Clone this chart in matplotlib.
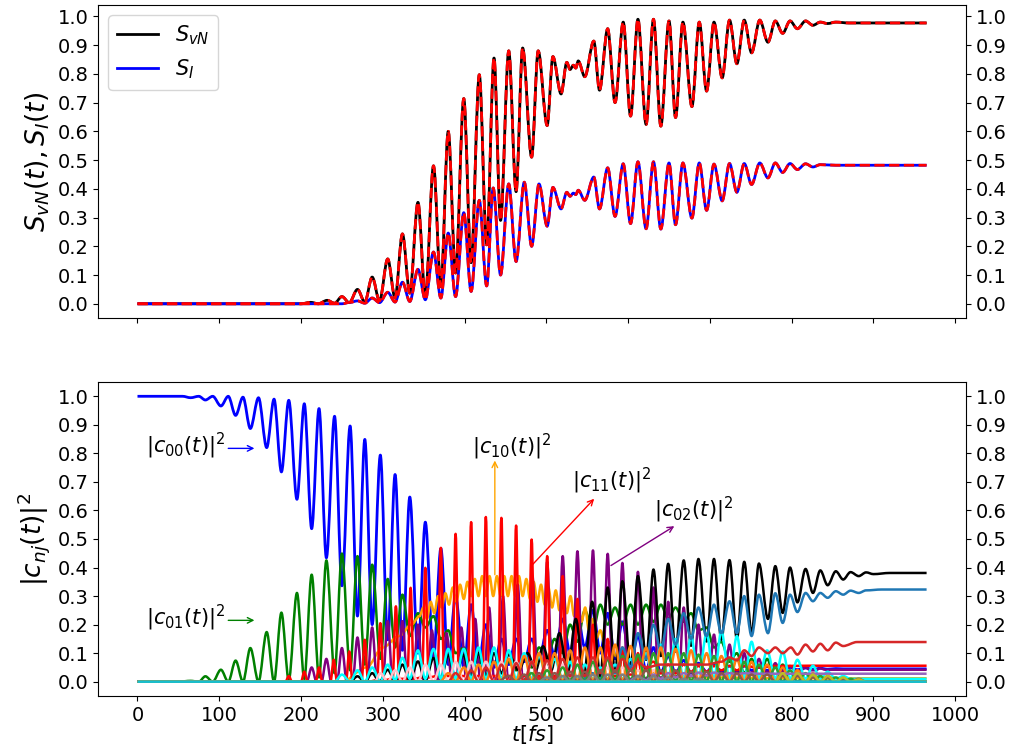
import matplotlib
matplotlib.use("Agg")
import matplotlib.pyplot as plt
from matplotlib.path import Path
from matplotlib.patches import PathPatch
from matplotlib.lines import Line2D

# ---------------- upper panel: entropies ----------------
svn_t = [0, 200, 212, 221, 232, 241, 250, 259, 269, 278,
         287, 296, 306, 315, 324, 333, 343, 352, 362, 371,
         380, 389, 399, 408, 418, 427, 436, 444, 454, 463,
         471, 482, 490, 501, 508, 518, 525, 529, 533, 536,
         539, 547, 558, 565, 575, 584, 594, 603, 612, 622,
         631, 640, 650, 658, 667, 678, 687, 696, 705, 715,
         724, 733, 742, 751, 761, 771, 780, 789, 798, 807,
         817, 826, 835, 844, 854, 870, 965]
svn_v = [0.0, 0.0, 0.005, 0.0, 0.012, 0.002, 0.025, 0.004, 0.05, 0.006,
         0.093, 0.01, 0.156, 0.02, 0.243, 0.037, 0.353, 0.025, 0.48, 0.06,
         0.60, 0.107, 0.714, 0.143, 0.797, 0.205, 0.855, 0.29, 0.88, 0.39,
         0.89, 0.51, 0.88, 0.62, 0.86, 0.73, 0.84, 0.815, 0.83, 0.82,
         0.845, 0.79, 0.914, 0.743, 0.957, 0.70, 0.98, 0.653, 0.99, 0.624,
         0.99, 0.618, 0.984, 0.648, 0.98, 0.686, 0.98, 0.74, 0.98, 0.786,
         0.987, 0.835, 0.987, 0.873, 0.987, 0.91, 0.984, 0.941, 0.984, 0.957,
         0.984, 0.969, 0.98, 0.975, 0.98, 0.977, 0.977]

si_t = [0, 250, 260, 269, 278, 287, 296, 306, 315, 324,
        333, 343, 352, 362, 371, 380, 389, 399, 408, 418,
        427, 435, 444, 454, 463, 473, 482, 491, 501, 508,
        518, 525, 529, 533, 536, 539, 547, 558, 565, 575,
        584, 594, 603, 612, 622, 631, 640, 650, 658, 667,
        678, 687, 696, 705, 715, 724, 733, 742, 751, 761,
        771, 780, 789, 798, 807, 817, 826, 835, 854, 965]
si_v = [0.0, 0.0, 0.005, 0.01, 0.002, 0.02, 0.004, 0.04, 0.006, 0.075,
        0.008, 0.12, 0.014, 0.18, 0.02, 0.246, 0.025, 0.317, 0.043, 0.36,
        0.062, 0.403, 0.1, 0.417, 0.147, 0.423, 0.20, 0.417, 0.27, 0.405,
        0.33, 0.388, 0.374, 0.385, 0.38, 0.395, 0.36, 0.441, 0.33, 0.473,
        0.304, 0.487, 0.279, 0.494, 0.261, 0.494, 0.26, 0.49, 0.275, 0.49,
        0.298, 0.49, 0.325, 0.486, 0.358, 0.488, 0.388, 0.488, 0.415, 0.49,
        0.438, 0.49, 0.457, 0.488, 0.467, 0.487, 0.476, 0.484, 0.482, 0.482]

# ---------------- lower panel: populations ----------------
c00_t = [0, 55, 65,
         75, 83, 92, 102, 111, 120, 129, 138, 148, 158,
         167, 176, 185, 195, 204, 213, 222, 231, 241, 250,
         260, 269, 278, 287, 297, 306, 315, 324, 333, 343,
         352, 362, 371, 380, 389, 399, 408, 417, 426, 436,
         445, 454, 463, 473, 482, 491, 501, 510, 520, 529,
         538, 547, 557, 566, 575, 584, 593, 603, 612, 622,
         631, 640, 649, 658, 668, 677, 686, 696, 705, 714,
         724, 733, 742, 751, 760, 770, 780, 789, 798, 807,
         817, 826, 835, 844, 854, 863, 872, 882,
         900, 965]
c00_v = [1.0, 1.0, 0.995,
         1.0, 0.987, 1.0, 0.966, 1.0, 0.933, 0.997, 0.887, 0.995, 0.82,
         0.99, 0.735, 0.986, 0.639, 0.974, 0.536, 0.957, 0.434, 0.93, 0.336,
         0.896, 0.23, 0.849, 0.2, 0.794, 0.147, 0.726, 0.11, 0.647, 0.1,
         0.559, 0.08, 0.467, 0.06, 0.30, 0.05, 0.27, 0.06, 0.20, 0.05,
         0.15, 0.06, 0.15, 0.07, 0.15, 0.08, 0.18, 0.09, 0.22, 0.10,
         0.235, 0.12, 0.25, 0.10, 0.24, 0.08, 0.21, 0.06, 0.16, 0.04,
         0.12, 0.03, 0.09, 0.03, 0.075, 0.03, 0.065, 0.035, 0.06, 0.035,
         0.055, 0.035, 0.055, 0.04, 0.05, 0.04, 0.05, 0.04, 0.05, 0.042,
         0.048, 0.043, 0.047, 0.044, 0.046, 0.045, 0.045, 0.045,
         0.045, 0.045]

c01_t = [0, 50, 65, 75, 83, 92, 102, 111, 120, 129,
         138, 148, 158, 167, 176, 185, 195, 204, 213, 222,
         231, 241, 250, 260, 269, 278, 287, 297, 306, 315,
         324, 333, 343, 352, 362, 371, 380, 389, 399, 408,
         417, 426, 436, 445, 454, 463, 473, 482, 491, 501,
         510, 520, 529, 538, 547, 557, 566, 575, 584, 593,
         603, 612, 622, 631, 640, 649, 658, 668, 677, 686,
         696, 705, 714, 724, 733, 742, 751, 760, 770, 780,
         789, 798, 807, 817, 826, 835, 844, 854, 863, 872, 965]
c01_v = [0.0, 0.0, 0.003, 0.0, 0.019, 0.0, 0.042, 0.0, 0.074, 0.0,
         0.118, 0.0, 0.174, 0.0, 0.242, 0.005, 0.311, 0.01, 0.375, 0.015,
         0.425, 0.03, 0.449, 0.04, 0.44, 0.06, 0.41, 0.08, 0.36, 0.12,
         0.305, 0.16, 0.24, 0.19, 0.23, 0.15, 0.18, 0.10, 0.12, 0.06,
         0.08, 0.04, 0.07, 0.03, 0.07, 0.04, 0.09, 0.05, 0.12, 0.08,
         0.15, 0.10, 0.20, 0.14, 0.25, 0.18, 0.27, 0.20, 0.26, 0.20,
         0.27, 0.20, 0.27, 0.21, 0.27, 0.22, 0.26, 0.21, 0.24, 0.18,
         0.19, 0.12, 0.14, 0.07, 0.10, 0.03, 0.08, 0.01, 0.08, 0.0,
         0.06, 0.0, 0.04, 0.0, 0.025, 0.0, 0.012, 0.0, 0.005, 0.0, 0.0]

c10_t = [0, 250, 280, 300, 320, 335, 345, 349.5, 354, 358.5,
         363, 367.5, 372, 376.5, 381, 385.5, 390, 394.5, 399, 403.5,
         408, 412.5, 417, 421.5, 426, 430.5, 435, 439.5, 444, 448.5,
         453, 457.5, 462, 466.5, 471, 475.5, 480, 484.5, 489, 493.5,
         498, 502.5, 507, 511.5, 516, 520.5, 525, 529.5, 534, 538.5,
         543, 547.5, 552, 556.5, 561, 566, 572, 578, 585, 592,
         600, 610, 620, 640, 660, 700, 800, 965]
c10_v = [0.0, 0.0, 0.05, 0.12, 0.16, 0.2, 0.23, 0.26, 0.22, 0.28,
         0.24, 0.30, 0.26, 0.31, 0.27, 0.33, 0.28, 0.34, 0.29, 0.35,
         0.30, 0.36, 0.30, 0.37, 0.30, 0.37, 0.30, 0.37, 0.30, 0.37,
         0.30, 0.37, 0.30, 0.37, 0.30, 0.36, 0.29, 0.35, 0.28, 0.34,
         0.27, 0.33, 0.26, 0.32, 0.25, 0.31, 0.24, 0.30, 0.23, 0.28,
         0.21, 0.26, 0.18, 0.22, 0.15, 0.18, 0.12, 0.14, 0.09, 0.10,
         0.06, 0.07, 0.04, 0.03, 0.02, 0.015, 0.012, 0.012]

c11_t = [0, 178,
         181, 185, 189,
         200, 204, 208,
         218, 222, 226,
         236, 240, 244,
         255, 259, 263,
         274, 278, 282,
         293, 297, 301,
         312, 316, 320,
         330, 334, 338,
         348, 352, 356,
         367, 371, 375,
         385, 389, 393,
         404, 408, 412,
         422, 426, 430,
         441, 445, 449,
         459, 463, 467,
         478, 482, 486,
         497, 501, 505,
         516, 520, 524,
         534, 538, 542,
         553, 557, 561,
         571, 575, 579,
         589, 593, 597,
         608, 612, 616,
         631, 640, 649, 658, 668, 677, 686, 696, 705, 714,
         724, 733, 742, 760, 780, 820, 965]
c11_v = [0.0, 0.0,
         0.0, 0.02, 0.0,
         0.0, 0.035, 0.0,
         0.0, 0.05, 0.0,
         0.0, 0.077, 0.0,
         0.0, 0.106, 0.0,
         0.0, 0.147, 0.0,
         0.005, 0.205, 0.005,
         0.01, 0.264, 0.01,
         0.01, 0.329, 0.01,
         0.015, 0.399, 0.015,
         0.02, 0.469, 0.02,
         0.02, 0.518, 0.02,
         0.02, 0.559, 0.02,
         0.02, 0.577, 0.02,
         0.02, 0.574, 0.02,
         0.02, 0.547, 0.02,
         0.02, 0.498, 0.02,
         0.02, 0.44, 0.02,
         0.02, 0.37, 0.02,
         0.02, 0.29, 0.02,
         0.02, 0.20, 0.02,
         0.02, 0.15, 0.02,
         0.02, 0.12, 0.025,
         0.025, 0.10, 0.03,
         0.07, 0.03, 0.06, 0.03, 0.06, 0.035, 0.055, 0.035, 0.055, 0.04,
         0.055, 0.04, 0.055, 0.05, 0.055, 0.056, 0.056]

c02_t = [0, 190,
         207, 213, 219,
         225, 231, 237,
         244, 250, 256,
         263, 269, 275,
         281, 287, 293,
         300, 306, 312,
         318, 324, 330,
         337, 343, 349,
         354, 360, 366,
         372, 378, 384,
         390, 396, 402,
         407, 413, 419,
         424, 430, 436,
         441, 447, 453,
         459, 465, 471,
         477, 483, 489,
         495, 501, 507,
         514, 520, 526,
         532, 538, 544,
         551, 557, 563,
         569, 575, 581,
         587, 593, 599,
         606, 612, 618,
         625, 631, 637,
         643, 649, 655,
         662, 668, 674,
         680, 686, 692,
         699, 705, 711,
         718, 724, 730,
         736, 742, 748,
         754, 760, 766,
         774, 780, 786,
         792, 798, 804,
         811, 817, 823,
         829, 835, 841,
         870, 965]
c02_v = [0.0, 0.0,
         0.0, 0.05, 0.0,
         0.0, 0.08, 0.0,
         0.0, 0.118, 0.0,
         0.0, 0.155, 0.0,
         0.0, 0.19, 0.0,
         0.005, 0.212, 0.005,
         0.005, 0.212, 0.005,
         0.01, 0.20, 0.01,
         0.01, 0.18, 0.01,
         0.01, 0.17, 0.01,
         0.01, 0.19, 0.01,
         0.01, 0.22, 0.01,
         0.01, 0.26, 0.01,
         0.01, 0.30, 0.01,
         0.01, 0.34, 0.01,
         0.01, 0.37, 0.01,
         0.01, 0.42, 0.01,
         0.01, 0.44, 0.01,
         0.01, 0.457, 0.01,
         0.01, 0.46, 0.01,
         0.01, 0.448, 0.01,
         0.01, 0.416, 0.01,
         0.01, 0.385, 0.01,
         0.015, 0.33, 0.015,
         0.015, 0.28, 0.015,
         0.02, 0.26, 0.02,
         0.02, 0.20, 0.02,
         0.025, 0.165, 0.025,
         0.03, 0.13, 0.03,
         0.03, 0.10, 0.03,
         0.035, 0.08, 0.035,
         0.035, 0.065, 0.035,
         0.04, 0.055, 0.04,
         0.04, 0.05, 0.04,
         0.04, 0.047, 0.042,
         0.042, 0.042]

blk_t = [0, 250, 260, 269, 278, 287, 296, 306, 315, 324,
         333, 343, 352, 362, 371, 380, 389, 398, 408, 417,
         426, 436, 445, 454, 466, 477, 487, 496, 506, 516,
         526, 536, 546, 556, 566, 575, 584, 593, 603, 612,
         622, 631, 640, 649, 658, 668, 677, 686, 696, 705,
         714, 724, 733, 742, 751, 760, 771, 780, 789, 798,
         807, 817, 826, 835, 844, 854, 863, 872, 882, 891,
         900, 920, 965]
blk_v = [0.0, 0.0, 0.0, 0.019, 0.0, 0.03, 0.0, 0.042, 0.002, 0.06,
         0.005, 0.071, 0.005, 0.083, 0.01, 0.095, 0.01, 0.095, 0.02, 0.10,
         0.02, 0.10, 0.03, 0.095, 0.04, 0.10, 0.04, 0.124, 0.04, 0.17,
         0.03, 0.22, 0.02, 0.28, 0.02, 0.33, 0.03, 0.352, 0.05, 0.37,
         0.077, 0.393, 0.09, 0.413, 0.106, 0.425, 0.126, 0.43, 0.141, 0.43,
         0.147, 0.426, 0.15, 0.42, 0.17, 0.414, 0.22, 0.405, 0.241, 0.40,
         0.278, 0.395, 0.311, 0.39, 0.338, 0.387, 0.358, 0.384, 0.37, 0.383,
         0.377, 0.381, 0.381]

sb_t = [0, 540, 556, 566, 575, 584, 593, 603, 612, 622,
        631, 640, 649, 658, 668, 677, 686, 696, 705, 714,
        724, 733, 742, 751, 760, 771, 780, 789, 798, 807,
        817, 826, 835, 844, 854, 863, 872, 882, 891, 910, 965]
sb_v = [0.0, 0.0, 0.03, 0.01, 0.08, 0.03, 0.12, 0.05, 0.17, 0.08,
        0.2, 0.11, 0.22, 0.13, 0.24, 0.15, 0.26, 0.16, 0.27, 0.17,
        0.282, 0.17, 0.3, 0.16, 0.305, 0.17, 0.31, 0.206, 0.305, 0.244,
        0.311, 0.282, 0.311, 0.294, 0.317, 0.305, 0.319, 0.311, 0.32, 0.323, 0.323]

trd_t = [0, 380, 389, 399, 408, 417, 426, 436, 445, 454,
         463, 473, 482, 491, 501, 510, 520, 529, 538, 547,
         557, 566, 575, 584, 593, 603, 612, 622, 640, 658,
         677, 696, 714, 724, 733, 742, 751, 760, 771, 780,
         789, 799, 807, 817, 826, 835, 844, 854, 863, 880, 965]
trd_v = [0.0, 0.0, 0.03, 0.0, 0.04, 0.0, 0.05, 0.0, 0.06, 0.0,
         0.065, 0.0, 0.07, 0.01, 0.075, 0.01, 0.08, 0.02, 0.085, 0.02,
         0.085, 0.03, 0.085, 0.035, 0.08, 0.04, 0.07, 0.05, 0.06, 0.06,
         0.06, 0.06, 0.07, 0.085, 0.075, 0.11, 0.09, 0.12, 0.10, 0.12,
         0.10, 0.12, 0.095, 0.13, 0.106, 0.133, 0.11, 0.137, 0.125, 0.139, 0.139]

cy_t = [0, 230, 241, 250, 260, 269, 278, 287, 297, 306,
        315, 324, 333, 343, 352, 362, 371, 380, 389, 399,
        408, 417, 426, 436, 445, 454, 463, 473, 482, 491,
        501, 510, 520, 529, 538, 547, 557, 566, 575, 584,
        593, 603, 612, 622, 631, 640, 649, 658, 668, 677,
        686, 696, 705, 714, 724, 733, 742, 751, 760, 770,
        780, 789, 798, 807, 817, 826, 835, 844, 854, 863,
        872, 890, 965]
cy_v = [0.0, 0.0, 0.0, 0.025, 0.0, 0.04, 0.0, 0.05, 0.0, 0.06,
        0.005, 0.084, 0.01, 0.11, 0.01, 0.115, 0.01, 0.115, 0.01, 0.115,
        0.01, 0.12, 0.01, 0.12, 0.01, 0.11, 0.01, 0.10, 0.01, 0.09,
        0.01, 0.08, 0.01, 0.07, 0.01, 0.06, 0.01, 0.05, 0.01, 0.06,
        0.01, 0.08, 0.01, 0.10, 0.01, 0.13, 0.01, 0.15, 0.01, 0.16,
        0.01, 0.17, 0.01, 0.177, 0.01, 0.16, 0.01, 0.14, 0.01, 0.11,
        0.01, 0.106, 0.01, 0.077, 0.01, 0.056, 0.01, 0.035, 0.01, 0.02,
        0.01, 0.01, 0.01]

tor_t = [0, 370, 380, 389, 399, 408, 417, 426, 436, 445,
         454, 463, 473, 482, 491, 501, 510, 520, 529, 538,
         547, 557, 566, 575, 584, 593, 603, 612, 622, 631,
         640, 649, 658, 668, 677, 686, 696, 705, 714, 724,
         733, 742, 751, 760, 770, 780, 789, 798, 807, 817,
         826, 835, 844, 854, 863, 872, 890, 965]
tor_v = [0.0, 0.0, 0.03, 0.0, 0.05, 0.0, 0.06, 0.0, 0.07, 0.0,
         0.08, 0.0, 0.09, 0.0, 0.10, 0.0, 0.10, 0.0, 0.11, 0.0,
         0.12, 0.0, 0.12, 0.0, 0.13, 0.0, 0.125, 0.0, 0.12, 0.0,
         0.12, 0.0, 0.115, 0.0, 0.11, 0.0, 0.10, 0.0, 0.09, 0.0,
         0.08, 0.0, 0.07, 0.0, 0.06, 0.0, 0.05, 0.0, 0.04, 0.0,
         0.03, 0.0, 0.02, 0.0, 0.01, 0.0, 0.0, 0.0]

tgr_t = [0, 470, 482, 491, 501, 510, 520, 529, 538, 547,
         557, 566, 575, 584, 593, 603, 612, 622, 631, 640,
         649, 658, 668, 677, 686, 696, 705, 714, 724, 733,
         742, 751, 760, 770, 780, 789, 798, 807, 817, 826,
         835, 844, 854, 863, 872, 882, 965]
tgr_v = [0.0, 0.0, 0.03, 0.0, 0.04, 0.0, 0.05, 0.0, 0.06, 0.0,
         0.07, 0.0, 0.08, 0.0, 0.09, 0.0, 0.095, 0.0, 0.1, 0.0,
         0.1, 0.0, 0.1, 0.0, 0.095, 0.0, 0.09, 0.0, 0.08, 0.0,
         0.07, 0.0, 0.06, 0.0, 0.05, 0.0, 0.04, 0.0, 0.03, 0.0,
         0.02, 0.0, 0.015, 0.0, 0.01, 0.0, 0.0]

pnk_t = [0, 290, 297, 306, 315, 324, 333, 343, 352, 362,
         371, 380, 389, 399, 408, 417, 426, 436, 445, 454,
         463, 473, 482, 491, 501, 510, 520, 529, 538, 547,
         557, 566, 575, 584, 593, 603, 612, 622, 631, 640,
         649, 658, 668, 677, 686, 696, 705, 720, 965]
pnk_v = [0.0, 0.0, 0.03, 0.0, 0.04, 0.0, 0.05, 0.0, 0.06, 0.0,
         0.06, 0.0, 0.07, 0.0, 0.07, 0.0, 0.07, 0.0, 0.07, 0.0,
         0.07, 0.0, 0.07, 0.0, 0.07, 0.0, 0.06, 0.0, 0.06, 0.0,
         0.06, 0.0, 0.05, 0.0, 0.05, 0.0, 0.04, 0.0, 0.04, 0.0,
         0.03, 0.0, 0.03, 0.0, 0.02, 0.0, 0.01, 0.0, 0.0]

tbr_t = [0, 440, 454, 463, 473, 482, 491, 501, 510, 520,
         529, 538, 547, 557, 566, 575, 584, 593, 603, 612,
         622, 631, 640, 649, 658, 668, 677, 686, 696, 705,
         714, 724, 733, 742, 751, 760, 770, 780, 789, 798,
         807, 817, 826, 835, 844, 854, 863, 872, 882, 891, 965]
tbr_v = [0.0, 0.0, 0.02, 0.0, 0.025, 0.0, 0.03, 0.0, 0.03, 0.0,
         0.035, 0.0, 0.035, 0.0, 0.04, 0.0, 0.04, 0.0, 0.04, 0.0,
         0.04, 0.0, 0.04, 0.0, 0.04, 0.0, 0.035, 0.0, 0.035, 0.0,
         0.03, 0.0, 0.03, 0.0, 0.025, 0.0, 0.025, 0.0, 0.02, 0.0,
         0.02, 0.0, 0.015, 0.0, 0.015, 0.0, 0.01, 0.0, 0.01, 0.0, 0.0]

tpu_t = [0, 600, 612, 622, 631, 640, 649, 658, 668, 677,
         686, 696, 705, 714, 724, 733, 742, 760, 800, 965]
tpu_v = [0.0, 0.0, 0.02, 0.005, 0.025, 0.01, 0.03, 0.015, 0.03, 0.02,
         0.032, 0.022, 0.032, 0.025, 0.03, 0.026, 0.03, 0.028, 0.028, 0.028]

tgy_t = [0, 490, 501, 510, 520, 529, 538, 547, 557, 566,
         575, 584, 593, 603, 612, 622, 631, 640, 649, 658,
         668, 677, 686, 700, 965]
tgy_v = [0.0, 0.0, 0.015, 0.0, 0.02, 0.0, 0.02, 0.0, 0.025, 0.0,
         0.025, 0.0, 0.025, 0.0, 0.02, 0.0, 0.02, 0.0, 0.015, 0.0,
         0.01, 0.0, 0.01, 0.0, 0.0]

tol_t = [0, 780, 789, 798, 807, 817, 826, 835, 844, 854, 863, 872, 882, 891, 900, 965]
tol_v = [0.0, 0.0, 0.03, 0.0, 0.03, 0.0, 0.025, 0.0, 0.02, 0.0, 0.015, 0.0, 0.008, 0.0, 0.0, 0.0]

tcy_t = [0, 965]
tcy_v = [0.0, 0.0]

x_ticks = [0, 100, 200, 300, 400, 500, 600, 700, 800, 900, 1000]
y_ticks = [0.0, 0.1, 0.2, 0.3, 0.4, 0.5, 0.6, 0.7, 0.8, 0.9, 1.0]

TICK_FS = 14
LABEL_FS = 19
ANN_FS = 15


def smooth_trace(ax, t, v, color, lw=1.8, ls="-"):
    """Draw a curve through the sample points (t, v) as a chain of cubic
    Bezier segments with flat tangents at every sample, so oscillations
    between turning points come out rounded."""
    verts = [(t[0], v[0])]
    codes = [Path.MOVETO]
    for i in range(len(t) - 1):
        dt = t[i + 1] - t[i]
        verts += [(t[i] + dt / 3.0, v[i]),
                  (t[i + 1] - dt / 3.0, v[i + 1]),
                  (t[i + 1], v[i + 1])]
        codes += [Path.CURVE4] * 3
    patch = PathPatch(Path(verts, codes), fill=False, edgecolor=color,
                      lw=lw, ls=ls, joinstyle="round", capstyle="butt")
    ax.add_patch(patch)
    return patch


fig = plt.figure(figsize=(10.17, 7.47), dpi=100)
ax1 = fig.add_axes([0.0964, 0.5743, 0.8535, 0.419])
ax2 = fig.add_axes([0.0964, 0.0683, 0.8535, 0.4203], sharex=ax1)

# upper panel
smooth_trace(ax1, svn_t, svn_v, "black", lw=2.0)
smooth_trace(ax1, si_t, si_v, "blue", lw=2.0)
smooth_trace(ax1, svn_t, svn_v, "red", lw=2.0, ls="--")
smooth_trace(ax1, si_t, si_v, "red", lw=2.0, ls="--")
handles = [Line2D([], [], color="black", lw=2.0),
           Line2D([], [], color="blue", lw=2.0)]
ax1.legend(handles, [r"$S_{vN}$", r"$S_I$"], loc="upper left",
           fontsize=15, handlelength=2.0)
ax1.set_ylabel(r"$S_{vN}(t), S_I(t)$", fontsize=LABEL_FS)

# lower panel
smooth_trace(ax2, c00_t, c00_v, "blue", lw=2.0)
smooth_trace(ax2, c01_t, c01_v, "green")
smooth_trace(ax2, c10_t, c10_v, "orange")
smooth_trace(ax2, c02_t, c02_v, "purple")
smooth_trace(ax2, c11_t, c11_v, "red")
smooth_trace(ax2, blk_t, blk_v, "black")
smooth_trace(ax2, cy_t, cy_v, "cyan")
smooth_trace(ax2, pnk_t, pnk_v, "pink")
smooth_trace(ax2, sb_t, sb_v, "tab:blue")
smooth_trace(ax2, tor_t, tor_v, "tab:orange")
smooth_trace(ax2, tgr_t, tgr_v, "tab:green")
smooth_trace(ax2, trd_t, trd_v, "tab:red")
smooth_trace(ax2, tpu_t, tpu_v, "tab:purple")
smooth_trace(ax2, tbr_t, tbr_v, "tab:brown")
smooth_trace(ax2, tgy_t, tgy_v, "tab:gray")
smooth_trace(ax2, tol_t, tol_v, "tab:olive")
smooth_trace(ax2, tcy_t, tcy_v, "tab:cyan")

ax2.set_ylabel(r"$|c_{nj}(t)|^2$", fontsize=LABEL_FS)
ax2.set_xlabel(r"$t[fs]$", fontsize=15, labelpad=-1)

# labels with arrows
arrow = dict(arrowstyle="->", lw=1.0, shrinkA=0, shrinkB=0)
ax2.text(10, 0.826, r"$|c_{00}(t)|^2$", fontsize=ANN_FS, ha="left", va="center")
ax2.annotate("", xy=(143, 0.8175), xytext=(111, 0.8175),
             arrowprops=dict(arrow, color="blue"))
ax2.text(10, 0.223, r"$|c_{01}(t)|^2$", fontsize=ANN_FS, ha="left", va="center")
ax2.annotate("", xy=(143, 0.215), xytext=(111, 0.215),
             arrowprops=dict(arrow, color="green"))
ax2.text(458, 0.822, r"$|c_{10}(t)|^2$", fontsize=ANN_FS, ha="center", va="center")
ax2.annotate("", xy=(437, 0.775), xytext=(437, 0.375),
             arrowprops=dict(arrow, color="orange"))
ax2.text(580, 0.705, r"$|c_{11}(t)|^2$", fontsize=ANN_FS, ha="center", va="center")
ax2.annotate("", xy=(558.5, 0.641), xytext=(483, 0.41),
             arrowprops=dict(arrow, color="red"))
ax2.text(680, 0.601, r"$|c_{02}(t)|^2$", fontsize=ANN_FS, ha="center", va="center")
ax2.annotate("", xy=(656.5, 0.545), xytext=(579, 0.407),
             arrowprops=dict(arrow, color="purple"))

for ax in (ax1, ax2):
    ax.set_yticks(y_ticks)
    ax.tick_params(labelsize=TICK_FS, right=True, labelright=True)
ax2.set_xticks(x_ticks)
ax1.tick_params(labelbottom=False)
ax1.set_xlim(-48.25, 1013.25)
ax1.set_ylim(-0.0495, 1.0395)
ax2.set_ylim(-0.05, 1.05)

fig.savefig("out.png", dpi=100)
